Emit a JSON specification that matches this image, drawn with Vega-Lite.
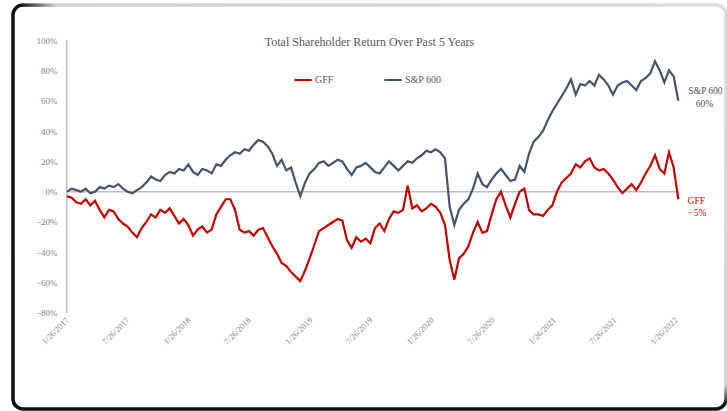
{
  "$schema": "https://vega.github.io/schema/vega-lite/v6.json",
  "width": 713,
  "height": 404,
  "autosize": {"type": "none"},
  "padding": {"left": 13, "top": 5, "right": 1, "bottom": 2},
  "background": "white",
  "config": {"view": {"stroke": null}, "font": "Liberation Serif"},
  "title": {"text": "Total Shareholder Return Over Past 5 Years", "offset": -46, "fontSize": 12, "fontWeight": "normal", "color": "#595959", "font": "Liberation Serif"},
  "datasets": {
    "tsr": [
      {"d":"2017-01-26","GFF":-0.03,"S&P 600":0.00},
      {"d":"2017-02-09","GFF":-0.04,"S&P 600":0.02},
      {"d":"2017-02-23","GFF":-0.07,"S&P 600":0.01},
      {"d":"2017-03-09","GFF":-0.08,"S&P 600":0.00},
      {"d":"2017-03-23","GFF":-0.05,"S&P 600":0.02},
      {"d":"2017-04-06","GFF":-0.09,"S&P 600":-0.01},
      {"d":"2017-04-20","GFF":-0.06,"S&P 600":0.00},
      {"d":"2017-05-04","GFF":-0.12,"S&P 600":0.03},
      {"d":"2017-05-18","GFF":-0.17,"S&P 600":0.02},
      {"d":"2017-06-01","GFF":-0.12,"S&P 600":0.04},
      {"d":"2017-06-15","GFF":-0.13,"S&P 600":0.03},
      {"d":"2017-06-29","GFF":-0.18,"S&P 600":0.05},
      {"d":"2017-07-13","GFF":-0.21,"S&P 600":0.02},
      {"d":"2017-07-27","GFF":-0.23,"S&P 600":0.00},
      {"d":"2017-08-10","GFF":-0.27,"S&P 600":-0.01},
      {"d":"2017-08-24","GFF":-0.30,"S&P 600":0.01},
      {"d":"2017-09-07","GFF":-0.24,"S&P 600":0.03},
      {"d":"2017-09-21","GFF":-0.20,"S&P 600":0.06},
      {"d":"2017-10-05","GFF":-0.15,"S&P 600":0.10},
      {"d":"2017-10-19","GFF":-0.17,"S&P 600":0.08},
      {"d":"2017-11-02","GFF":-0.12,"S&P 600":0.07},
      {"d":"2017-11-16","GFF":-0.14,"S&P 600":0.11},
      {"d":"2017-11-30","GFF":-0.11,"S&P 600":0.13},
      {"d":"2017-12-14","GFF":-0.16,"S&P 600":0.12},
      {"d":"2017-12-28","GFF":-0.21,"S&P 600":0.15},
      {"d":"2018-01-11","GFF":-0.18,"S&P 600":0.14},
      {"d":"2018-01-25","GFF":-0.22,"S&P 600":0.18},
      {"d":"2018-02-08","GFF":-0.29,"S&P 600":0.13},
      {"d":"2018-02-22","GFF":-0.25,"S&P 600":0.11},
      {"d":"2018-03-08","GFF":-0.23,"S&P 600":0.15},
      {"d":"2018-03-22","GFF":-0.27,"S&P 600":0.14},
      {"d":"2018-04-05","GFF":-0.25,"S&P 600":0.12},
      {"d":"2018-04-19","GFF":-0.15,"S&P 600":0.18},
      {"d":"2018-05-03","GFF":-0.10,"S&P 600":0.17},
      {"d":"2018-05-17","GFF":-0.05,"S&P 600":0.21},
      {"d":"2018-05-31","GFF":-0.05,"S&P 600":0.24},
      {"d":"2018-06-14","GFF":-0.12,"S&P 600":0.26},
      {"d":"2018-06-28","GFF":-0.25,"S&P 600":0.25},
      {"d":"2018-07-12","GFF":-0.27,"S&P 600":0.28},
      {"d":"2018-07-26","GFF":-0.26,"S&P 600":0.27},
      {"d":"2018-08-09","GFF":-0.29,"S&P 600":0.31},
      {"d":"2018-08-23","GFF":-0.25,"S&P 600":0.34},
      {"d":"2018-09-06","GFF":-0.24,"S&P 600":0.33},
      {"d":"2018-09-20","GFF":-0.30,"S&P 600":0.30},
      {"d":"2018-10-04","GFF":-0.36,"S&P 600":0.25},
      {"d":"2018-10-18","GFF":-0.41,"S&P 600":0.17},
      {"d":"2018-11-01","GFF":-0.47,"S&P 600":0.21},
      {"d":"2018-11-15","GFF":-0.49,"S&P 600":0.14},
      {"d":"2018-11-29","GFF":-0.53,"S&P 600":0.16},
      {"d":"2018-12-13","GFF":-0.56,"S&P 600":0.06},
      {"d":"2018-12-27","GFF":-0.59,"S&P 600":-0.03},
      {"d":"2019-01-10","GFF":-0.52,"S&P 600":0.06},
      {"d":"2019-01-24","GFF":-0.44,"S&P 600":0.12},
      {"d":"2019-02-07","GFF":-0.35,"S&P 600":0.15},
      {"d":"2019-02-21","GFF":-0.26,"S&P 600":0.19},
      {"d":"2019-03-07","GFF":-0.24,"S&P 600":0.20},
      {"d":"2019-03-21","GFF":-0.22,"S&P 600":0.17},
      {"d":"2019-04-04","GFF":-0.20,"S&P 600":0.19},
      {"d":"2019-04-18","GFF":-0.18,"S&P 600":0.21},
      {"d":"2019-05-02","GFF":-0.19,"S&P 600":0.20},
      {"d":"2019-05-16","GFF":-0.32,"S&P 600":0.15},
      {"d":"2019-05-30","GFF":-0.37,"S&P 600":0.11},
      {"d":"2019-06-13","GFF":-0.30,"S&P 600":0.16},
      {"d":"2019-06-27","GFF":-0.33,"S&P 600":0.17},
      {"d":"2019-07-11","GFF":-0.31,"S&P 600":0.19},
      {"d":"2019-07-25","GFF":-0.34,"S&P 600":0.16},
      {"d":"2019-08-08","GFF":-0.24,"S&P 600":0.13},
      {"d":"2019-08-22","GFF":-0.21,"S&P 600":0.12},
      {"d":"2019-09-05","GFF":-0.26,"S&P 600":0.16},
      {"d":"2019-09-19","GFF":-0.18,"S&P 600":0.20},
      {"d":"2019-10-03","GFF":-0.13,"S&P 600":0.17},
      {"d":"2019-10-17","GFF":-0.14,"S&P 600":0.14},
      {"d":"2019-10-31","GFF":-0.12,"S&P 600":0.17},
      {"d":"2019-11-14","GFF":0.04,"S&P 600":0.20},
      {"d":"2019-11-28","GFF":-0.11,"S&P 600":0.19},
      {"d":"2019-12-12","GFF":-0.09,"S&P 600":0.22},
      {"d":"2019-12-26","GFF":-0.13,"S&P 600":0.24},
      {"d":"2020-01-09","GFF":-0.11,"S&P 600":0.27},
      {"d":"2020-01-23","GFF":-0.08,"S&P 600":0.26},
      {"d":"2020-02-06","GFF":-0.10,"S&P 600":0.28},
      {"d":"2020-02-20","GFF":-0.14,"S&P 600":0.26},
      {"d":"2020-03-05","GFF":-0.22,"S&P 600":0.22},
      {"d":"2020-03-19","GFF":-0.45,"S&P 600":-0.10},
      {"d":"2020-04-02","GFF":-0.58,"S&P 600":-0.22},
      {"d":"2020-04-16","GFF":-0.44,"S&P 600":-0.12},
      {"d":"2020-04-30","GFF":-0.41,"S&P 600":-0.08},
      {"d":"2020-05-14","GFF":-0.36,"S&P 600":-0.05},
      {"d":"2020-05-28","GFF":-0.27,"S&P 600":0.02},
      {"d":"2020-06-11","GFF":-0.20,"S&P 600":0.12},
      {"d":"2020-06-25","GFF":-0.27,"S&P 600":0.05},
      {"d":"2020-07-09","GFF":-0.26,"S&P 600":0.03},
      {"d":"2020-07-23","GFF":-0.15,"S&P 600":0.08},
      {"d":"2020-08-06","GFF":-0.05,"S&P 600":0.12},
      {"d":"2020-08-20","GFF":0.00,"S&P 600":0.15},
      {"d":"2020-09-03","GFF":-0.09,"S&P 600":0.11},
      {"d":"2020-09-17","GFF":-0.17,"S&P 600":0.07},
      {"d":"2020-10-01","GFF":-0.08,"S&P 600":0.08},
      {"d":"2020-10-15","GFF":0.00,"S&P 600":0.17},
      {"d":"2020-10-29","GFF":0.02,"S&P 600":0.13},
      {"d":"2020-11-12","GFF":-0.12,"S&P 600":0.25},
      {"d":"2020-11-26","GFF":-0.15,"S&P 600":0.33},
      {"d":"2020-12-10","GFF":-0.15,"S&P 600":0.36},
      {"d":"2020-12-24","GFF":-0.16,"S&P 600":0.40},
      {"d":"2021-01-07","GFF":-0.12,"S&P 600":0.47},
      {"d":"2021-01-21","GFF":-0.09,"S&P 600":0.53},
      {"d":"2021-02-04","GFF":0.00,"S&P 600":0.58},
      {"d":"2021-02-18","GFF":0.06,"S&P 600":0.63},
      {"d":"2021-03-04","GFF":0.09,"S&P 600":0.68},
      {"d":"2021-03-18","GFF":0.12,"S&P 600":0.74},
      {"d":"2021-04-01","GFF":0.18,"S&P 600":0.64},
      {"d":"2021-04-15","GFF":0.16,"S&P 600":0.71},
      {"d":"2021-04-29","GFF":0.20,"S&P 600":0.70},
      {"d":"2021-05-13","GFF":0.22,"S&P 600":0.73},
      {"d":"2021-05-27","GFF":0.16,"S&P 600":0.70},
      {"d":"2021-06-10","GFF":0.14,"S&P 600":0.77},
      {"d":"2021-06-24","GFF":0.15,"S&P 600":0.74},
      {"d":"2021-07-08","GFF":0.12,"S&P 600":0.70},
      {"d":"2021-07-22","GFF":0.08,"S&P 600":0.64},
      {"d":"2021-08-05","GFF":0.03,"S&P 600":0.70},
      {"d":"2021-08-19","GFF":-0.01,"S&P 600":0.72},
      {"d":"2021-09-02","GFF":0.02,"S&P 600":0.73},
      {"d":"2021-09-16","GFF":0.05,"S&P 600":0.70},
      {"d":"2021-09-30","GFF":0.01,"S&P 600":0.67},
      {"d":"2021-10-14","GFF":0.06,"S&P 600":0.73},
      {"d":"2021-10-28","GFF":0.12,"S&P 600":0.75},
      {"d":"2021-11-11","GFF":0.17,"S&P 600":0.78},
      {"d":"2021-11-25","GFF":0.24,"S&P 600":0.86},
      {"d":"2021-12-09","GFF":0.15,"S&P 600":0.80},
      {"d":"2021-12-23","GFF":0.12,"S&P 600":0.72},
      {"d":"2022-01-06","GFF":0.26,"S&P 600":0.80},
      {"d":"2022-01-20","GFF":0.16,"S&P 600":0.76},
      {"d":"2022-02-03","GFF":-0.05,"S&P 600":0.60}
    ],
    "ends": [
      {"d":"2022-02-03","k":"S&P 600","v":0.60},
      {"d":"2022-02-03","k":"GFF","v":-0.05}
    ]
  },
  "layer": [
    {
      "data": {"name": "tsr"},
      "transform": [{"fold": ["GFF", "S&P 600"], "as": ["k", "v"]}],
      "mark": {"type": "line", "strokeWidth": 2, "opacity": 0},
      "encoding": {
        "x": {
          "field": "d", "type": "temporal",
          "scale": {"domain": [{"year": 2016, "month": 8, "date": 17}, {"year": 2022, "month": 6, "date": 26}], "nice": false},
          "axis": {
            "title": null, "orient": "bottom", "offset": -96, "domain": false, "ticks": false, "grid": false,
            "values": [
              {"year": 2017, "month": 1, "date": 26}, {"year": 2017, "month": 7, "date": 26},
              {"year": 2018, "month": 1, "date": 26}, {"year": 2018, "month": 7, "date": 26},
              {"year": 2019, "month": 1, "date": 26}, {"year": 2019, "month": 7, "date": 26},
              {"year": 2020, "month": 1, "date": 26}, {"year": 2020, "month": 7, "date": 26},
              {"year": 2021, "month": 1, "date": 26}, {"year": 2021, "month": 7, "date": 26},
              {"year": 2022, "month": 1, "date": 26}
            ],
            "format": "%-m/%d/%Y", "labelAngle": -45, "labelAlign": "right", "labelBaseline": "middle",
            "labelPadding": 5, "labelFontSize": 8.5, "labelColor": "#7f7f7f", "labelFont": "Liberation Serif", "labelOverlap": false, "labelFlush": false
          }
        },
        "y": {
          "field": "v", "type": "quantitative",
          "scale": {"domain": [-1.433, 1.2308], "nice": false, "zero": false},
          "axis": {
            "title": null, "orient": "left", "offset": -53, "domain": false, "ticks": false, "grid": false,
            "values": [-0.8, -0.6, -0.4, -0.2, 0, 0.2, 0.4, 0.6, 0.8, 1.0],
            "format": ".0%", "labelPadding": 9, "labelFontSize": 9, "labelColor": "#7f7f7f", "labelFont": "Liberation Serif"
          }
        },
        "detail": {"field": "k"}
      }
    },
    {
      "data": {"values": [{}]},
      "mark": {
        "type": "rect", "fill": null, "strokeWidth": 3.5, "cornerRadius": 10,
        "stroke": {"gradient": "linear", "x1": 0, "y1": 1, "x2": 1, "y2": 0,
          "stops": [
            {"offset": 0, "color": "#111111"},
            {"offset": 0.505, "color": "#111111"},
            {"offset": 0.53, "color": "#d0d0d0"},
            {"offset": 1, "color": "#dcdcdc"}
          ]}
      },
      "encoding": {
        "x": {"datum": {"year": 2016, "month": 8, "date": 17}, "type": "temporal"},
        "x2": {"datum": {"year": 2022, "month": 6, "date": 26}},
        "y": {"datum": 1.2308, "type": "quantitative"},
        "y2": {"datum": -1.433}
      }
    },
    {
      "data": {"values": [{}]},
      "mark": {"type": "rule", "stroke": "#bfbfbf", "strokeWidth": 1.5},
      "encoding": {
        "x": {"datum": {"year": 2017, "month": 1, "date": 26}, "type": "temporal"},
        "x2": {"datum": {"year": 2022, "month": 2, "date": 3}},
        "y": {"datum": 0, "type": "quantitative"}
      }
    },
    {
      "data": {"values": [{}]},
      "mark": {"type": "rule", "stroke": "#bfbfbf", "strokeWidth": 1.5},
      "encoding": {
        "x": {"datum": {"year": 2017, "month": 1, "date": 25}, "type": "temporal"},
        "y": {"datum": -0.8, "type": "quantitative"},
        "y2": {"datum": 1.0}
      }
    },
    {
      "data": {"name": "tsr"},
      "transform": [{"fold": ["GFF", "S&P 600"], "as": ["k", "v"]}],
      "mark": {"type": "line", "strokeWidth": 2.2},
      "encoding": {
        "x": {"field": "d", "type": "temporal"},
        "y": {"field": "v", "type": "quantitative"},
        "color": {
          "field": "k", "type": "nominal",
          "scale": {"domain": ["GFF", "S&P 600"], "range": ["#C00000", "#44546A"]},
          "legend": {
            "title": null, "orient": "none", "legendX": 280, "legendY": 65, "direction": "horizontal",
            "symbolType": "stroke", "symbolStrokeWidth": 2, "symbolSize": 300, "columnPadding": 46,
            "labelFont": "Liberation Serif", "labelFontSize": 10, "labelColor": "#595959", "labelOffset": 2
          }
        }
      }
    },
    {
      "data": {"name": "ends"},
      "transform": [{"filter": {"field": "k", "equal": "S&P 600"}}],
      "mark": {"type": "text", "dx": 27, "dy": -10, "fontSize": 9.5, "font": "Liberation Serif", "align": "center", "color": "#44546A"},
      "encoding": {
        "x": {"field": "d", "type": "temporal"},
        "y": {"field": "v", "type": "quantitative"},
        "text": {"field": "k"}
      }
    },
    {
      "data": {"name": "ends"},
      "transform": [{"filter": {"field": "k", "equal": "S&P 600"}}],
      "mark": {"type": "text", "dx": 26, "dy": 3, "fontSize": 9.5, "font": "Liberation Serif", "align": "center", "color": "#44546A"},
      "encoding": {
        "x": {"field": "d", "type": "temporal"},
        "y": {"field": "v", "type": "quantitative"},
        "text": {"field": "v", "format": ".0%"}
      }
    },
    {
      "data": {"name": "ends"},
      "transform": [{"filter": {"field": "k", "equal": "GFF"}}],
      "mark": {"type": "text", "dx": 18, "dy": 2, "fontSize": 9.5, "font": "Liberation Serif", "align": "center", "color": "#C00000"},
      "encoding": {
        "x": {"field": "d", "type": "temporal"},
        "y": {"field": "v", "type": "quantitative"},
        "text": {"field": "k"}
      }
    },
    {
      "data": {"name": "ends"},
      "transform": [{"filter": {"field": "k", "equal": "GFF"}}],
      "mark": {"type": "text", "dx": 19, "dy": 14, "fontSize": 9.5, "font": "Liberation Serif", "align": "center", "color": "#C00000"},
      "encoding": {
        "x": {"field": "d", "type": "temporal"},
        "y": {"field": "v", "type": "quantitative"},
        "text": {"field": "v", "format": ".0%"}
      }
    }
  ]
}
